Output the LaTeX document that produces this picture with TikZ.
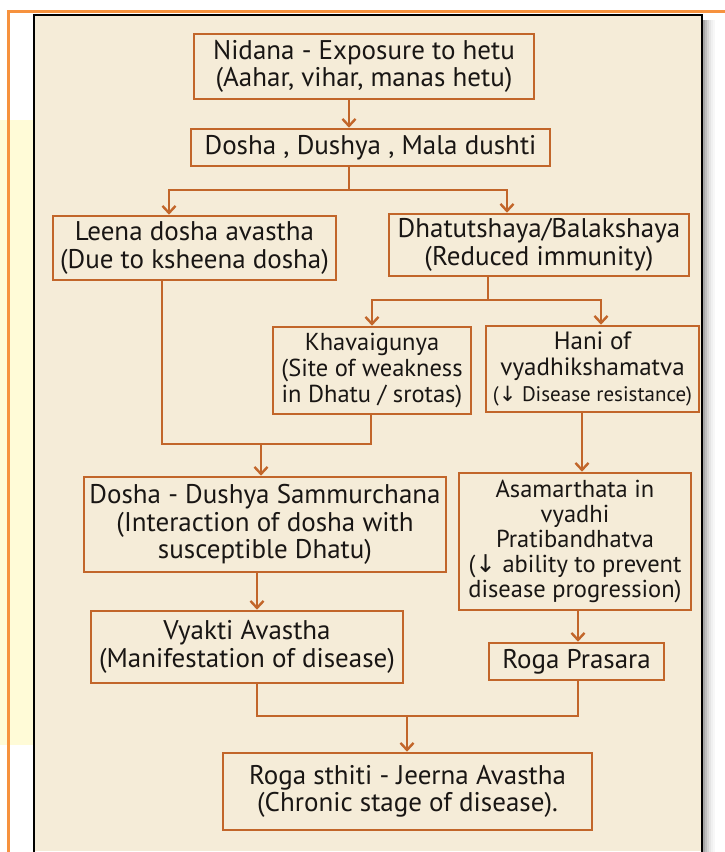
\documentclass[tikz,border=0pt]{standalone}
\usepackage{fontspec}
\setmainfont{PT Sans}
\newfontfamily\arrowfont{DejaVu Sans}
\usetikzlibrary{arrows.meta}
\definecolor{panel}{RGB}{245,236,216}
\definecolor{boxline}{RGB}{194,102,42}
\definecolor{frameor}{RGB}{246,146,62}
\definecolor{ink}{RGB}{25,22,20}
\definecolor{paleyellow}{RGB}{255,251,215}
\newcommand{\dn}{{\arrowfont\char"2193}}
\begin{document}
\begin{tikzpicture}[x=1pt,y=-1pt,
  fc/.style={draw=boxline, line width=2.6pt, fill=panel, text=ink, align=center,
    inner sep=0pt, font=\fontsize{27}{27.5}\selectfont},
  arr/.style={draw=boxline, line width=2.4pt, line join=miter,
    -{Straight Barb[length=7pt,width=13pt]}},
  ln/.style={draw=boxline, line width=2.4pt}]

\useasboundingbox (0,0) rectangle (725,852);
\fill[white] (0,0) rectangle (725,852);
\fill[paleyellow] (0,120) rectangle (34,745);
\draw[frameor, line width=3pt] (8,852) -- (8,11) -- (725,11);
\foreach \i/\o in {0/0.35,1/0.25,2/0.17,3/0.1,4/0.06,5/0.03}
  \fill[black,opacity=\o] (703+\i*2,20) rectangle (705+\i*2,852);
\fill[panel] (34,15) rectangle (702,851);
\draw[black, line width=1.2pt] (34,852) -- (34,15) -- (702,15) -- (702,852);

% boxes
\node[fc, minimum width=340pt, minimum height=65pt] (nid) at (364,66.5)
  {Nidana - Exposure to hetu\\(Aahar, vihar, manas hetu)};
\node[fc, minimum width=359pt, minimum height=37pt] (dos) at (370.5,147.5)
  {Dosha , Dushya , Mala dushti};
\node[fc, minimum width=283pt, minimum height=64pt] (lee) at (194.5,248)
  {Leena dosha avastha\\(Due to ksheena dosha)};
\node[fc, minimum width=300pt, minimum height=62pt] (dha) at (539,245)
  {Dhatutshaya/Balakshaya\\(Reduced immunity)};
\node[fc, minimum width=198pt, minimum height=87pt, font=\fontsize{24.5}{26}\selectfont] (kha) at (372,370.5)
  {Khavaigunya\\(Site of weakness\\in Dhatu / srotas)};
\node[fc, minimum width=213pt, minimum height=86pt, font=\fontsize{25}{26}\selectfont] (han) at (592.5,369)
  {Hani of\\vyadhikshamatva\\{\fontsize{21}{24}\selectfont(\dn\ Disease resistance)}};
\node[fc, minimum width=362pt, minimum height=95pt] (sam) at (265,524.5)
  {Dosha - Dushya Sammurchana\\(Interaction of dosha with\\susceptible Dhatu)};
\node[fc, minimum width=232pt, minimum height=137pt, font=\fontsize{24.5}{25}\selectfont] (asa) at (575,541.5)
  {Asamarthata in\\vyadhi\\Pratibandhatva\\(\dn\ ability to prevent\\disease progression)};
\node[fc, minimum width=312pt, minimum height=72pt] (vya) at (247,647)
  {Vyakti Avastha\\(Manifestation of disease)};
\node[fc, minimum width=175pt, minimum height=37pt] (rog) at (576.5,661.5)
  {Roga Prasara};
\node[fc, minimum width=369pt, minimum height=77pt] (sth) at (407.5,791.5)
  {Roga sthiti - Jeerna Avastha\\(Chronic stage of disease).};

% junction coordinates
\coordinate (a1) at (349,0);
\coordinate (b1) at (349,190);
\coordinate (b1l) at (169,190);
\coordinate (b1r) at (507,190);
\coordinate (c1) at (488,300);
\coordinate (c1l) at (372,300);
\coordinate (c1r) at (601,300);
\coordinate (d1) at (162,444);
\coordinate (d1r) at (371,444);
\coordinate (d1m) at (261,444);
\coordinate (e1) at (582,0);
\coordinate (f1) at (257,0);
\coordinate (g1) at (578,0);
\coordinate (h1) at (257,716);
\coordinate (h1r) at (578,716);
\coordinate (h1m) at (407,716);

% connectors
\draw[arr] (nid.south -| a1) -- (dos.north -| a1);
\draw[arr] (dos.south -| b1) -- (b1) -- (b1l) -- (lee.north -| b1l);
\draw[arr] (b1) -- (b1r) -- (dha.north -| b1r);
\draw[arr] (dha.south -| c1) -- (c1) -- (c1l) -- (kha.north -| c1l);
\draw[arr] (c1) -- (c1r) -- (han.north -| c1r);
\draw[ln, line join=miter] (lee.south -| d1) -- (d1) -- (d1r) -- (kha.south -| d1r);
\draw[arr] (d1m) -- (sam.north -| d1m);
\draw[arr] (han.south -| e1) -- (asa.north -| e1);
\draw[arr] (sam.south -| f1) -- (vya.north -| f1);
\draw[arr] (asa.south -| g1) -- (rog.north -| g1);
\draw[ln, line join=miter] (vya.south -| h1) -- (h1) -- (h1r) -- (rog.south -| h1r);
\draw[arr] (h1m) -- (sth.north -| h1m);
\end{tikzpicture}
\end{document}
